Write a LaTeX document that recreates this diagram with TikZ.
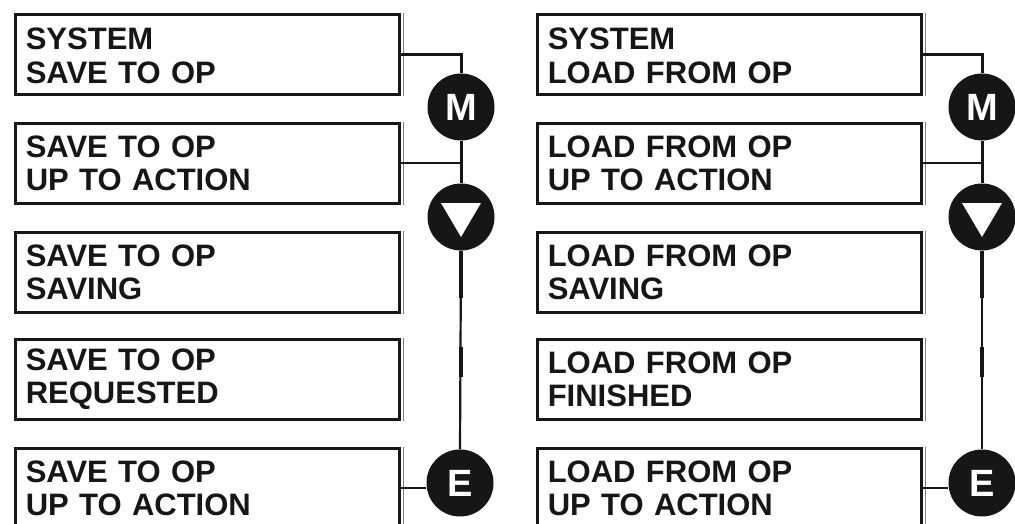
\documentclass[tikz,border=0pt]{standalone}
\usepackage{fontspec}
\setmainfont{Liberation Sans}
\usetikzlibrary{calc}
\definecolor{ink}{HTML}{161616}
\begin{document}
\begin{tikzpicture}[x=1pt,y=-1pt,
  box/.style={draw=ink, line width=2.6pt, minimum width=384pt, minimum height=80pt,
    anchor=north west, align=left, text width=363pt, inner xsep=10.5pt, inner ysep=0pt,
    font=\fontsize{31}{33.5}\selectfont\bfseries, text=ink},
  key/.style={circle, fill=ink, minimum size=67pt, inner sep=0pt, text=white,
    font=\fontsize{38}{38}\selectfont\bfseries},
  wire/.style={draw=ink, line width=3pt},
  thinwire/.style={draw=ink, line width=2.2pt},
  heavy/.style={draw=ink, line width=4.5pt},
  edge/.style={draw=gray, line width=1pt}
]
\useasboundingbox (0,0) rectangle (1015,524);
\clip (0,0) rectangle (1015,524);

% left column boxes
\node[box] (L1) at (14,13)  {\rule{0pt}{25pt}SYSTEM\\SAVE TO OP};
\node[box] (L2) at (14,122) {SAVE TO OP\\UP TO ACTION};
\node[box] (L3) at (14,231) {SAVE TO OP\\SAVING};
\node[box] (L4) at (14,338) {SAVE TO OP\\REQUESTED};
\node[box] (L5) at (14,447) {SAVE TO OP\\UP TO ACTION};

% right column boxes
\node[box] (R1) at (536,13)  {\rule{0pt}{25pt}SYSTEM\\LOAD FROM OP};
\node[box] (R2) at (536,122) {LOAD FROM OP\\UP TO ACTION};
\node[box] (R3) at (536,231) {LOAD FROM OP\\SAVING};
\node[box] (R4) at (536,338) {LOAD FROM OP\\FINISHED};
\node[box] (R5) at (536,447) {LOAD FROM OP\\UP TO ACTION};

% thin outer line on right edges
\foreach \b in {L1,L2,L3,L4,L5,R1,R2,R3,R4,R5}{
  \draw[edge] ($(\b.north east)+(3,0)$) -- ($(\b.south east)+(3,0)$);
}

% keys
\node[key] (LM) at (461,107) {M};
\node[key] (LD) at (461,217) {};
\node[key] (LE) at (460,483) {E};
\node[key] (RM) at (982,107) {M};
\node[key] (RD) at (982,217) {};
\node[key] (RE) at (982,483) {E};

% down triangles
\foreach \k in {LD,RD}{
  \fill[white] ($(\k)+(-20,-14)$) -- ($(\k)+(20,-14)$) -- ($(\k)+(0,20)$) -- cycle;
}

% connectors
\foreach \c in {L,R}{
  \draw[wire] (\c1.east) -- (\c1.east -| \c M) -- (\c M.north);
  \draw[wire] (\c M.south) -- (\c D.north);
  \draw[thinwire] (\c D.south) -- (\c E.north);
  \draw[heavy] (\c D.south) -- ++(0,47);
  \draw[heavy] ($(\c D.south)+(0,96)$) -- ++(0,30);
  \draw[thinwire] (\c2.east) -- (\c2.east -| \c M);
  \draw[thinwire] (\c5.east) -- (\c5.east -| \c E.west);
}
\end{tikzpicture}
\end{document}
